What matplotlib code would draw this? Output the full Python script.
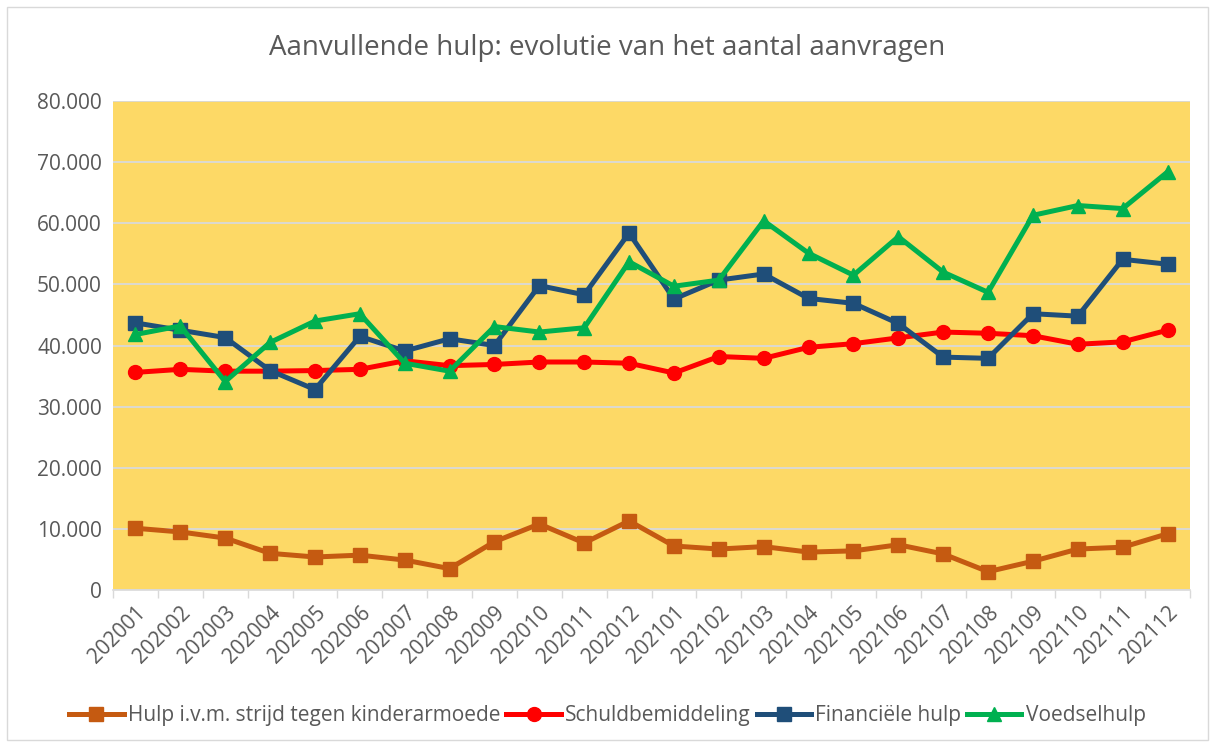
import matplotlib
matplotlib.use("Agg")
import matplotlib.pyplot as plt
import numpy as np

plt.rcParams['font.family'] = ['Open Sans', 'DejaVu Sans']

months = ["202001", "202002", "202003", "202004", "202005", "202006", "202007", "202008",
          "202009", "202010", "202011", "202012", "202101", "202102", "202103", "202104",
          "202105", "202106", "202107", "202108", "202109", "202110", "202111", "202112"]

kinderarmoede = [10100, 9500, 8500, 6000, 5400, 5700, 4900, 3500, 7900, 10800, 7700, 11300,
                 7200, 6700, 7100, 6200, 6400, 7400, 5900, 3000, 4700, 6700, 7000, 9200]
schuldbemiddeling = [35600, 36100, 35800, 35800, 35900, 36100, 37500, 36700, 36900, 37300, 37300, 37100,
                     35500, 38200, 37900, 39700, 40300, 41250, 42200, 42000, 41600, 40200, 40600, 42500]
financiele = [43700, 42500, 41300, 35900, 32800, 41500, 39100, 41100, 40000, 49800, 48300, 58400,
              47600, 50700, 51700, 47700, 46900, 43600, 38100, 37900, 45200, 44800, 54100, 53300]
voedsel = [41800, 43200, 34100, 40500, 44000, 45200, 37100, 35800, 43100, 42200, 42900, 53700,
           49700, 50700, 60400, 55100, 51500, 57800, 52000, 48700, 61300, 62900, 62400, 68400]

series_names = ["Hulp i.v.m. strijd tegen kinderarmoede", "Schuldbemiddeling",
                "Financiële hulp", "Voedselhulp"]
title = "Aanvullende hulp: evolutie van het aantal aanvragen"

fig = plt.figure(figsize=(12.15, 7.47), dpi=100)
ax = fig.add_axes([113/1215, 1 - 590/747, (1190-113)/1215, (590-101)/747])
ax.set_facecolor('#FDD966')

x = np.arange(len(months))
lw = 3.6
ax.plot(x, kinderarmoede, color='#C55A11', lw=lw, marker='s', ms=9.5, label=series_names[0], zorder=3)
ax.plot(x, schuldbemiddeling, color='#FF0000', lw=lw, marker='o', ms=10, label=series_names[1], zorder=3)
ax.plot(x, financiele, color='#1F4E79', lw=lw, marker='s', ms=9.5, label=series_names[2], zorder=3)
ax.plot(x, voedsel, color='#00B050', lw=lw, marker='^', ms=10.5, label=series_names[3], zorder=3)

ax.set_xlim(-0.5, len(months) - 0.5)
ax.set_ylim(0, 80000)
ax.set_yticks(np.arange(0, 80001, 10000))
ax.set_yticklabels(['0'] + [f"{v//1000}.000" for v in range(10000, 80001, 10000)],
                   fontsize=15, color='#595959')
ax.grid(axis='y', color='#D9D9D9', lw=1.3, zorder=1)
ax.set_axisbelow(True)

ax.set_xticks(np.arange(-0.5, len(months), 1.0))
ax.set_xticklabels([])
ax.set_xticks(x, minor=True)
ax.set_xticklabels(months, minor=True, rotation=45, ha='right', rotation_mode='anchor',
                   fontsize=15, color='#595959')
ax.tick_params(axis='x', which='major', length=6, color='#D9D9D9', width=1)
ax.tick_params(axis='x', which='minor', length=0, pad=9)
ax.tick_params(axis='y', length=0, pad=8)

for s in ['top', 'right', 'left']:
    ax.spines[s].set_visible(False)
ax.spines['bottom'].set_color('#D9D9D9')
ax.spines['bottom'].set_linewidth(1.2)

fig.text(0.5, 1 - 48/747, title, ha='center', va='center', fontsize=20, color='#595959')

fig.legend(loc='center', bbox_to_anchor=(0.5, 1 - 716/747), ncol=4, frameon=False,
           fontsize=15, handlelength=2.6, handletextpad=0.2, columnspacing=0.3,
           labelcolor='#595959')

border = plt.Rectangle((7/1215, 7/747), 1201/1215, 733/747, transform=fig.transFigure,
                       fill=False, edgecolor='#D9D9D9', lw=1)
fig.patches.append(border)

fig.savefig('out.png', dpi=100)
